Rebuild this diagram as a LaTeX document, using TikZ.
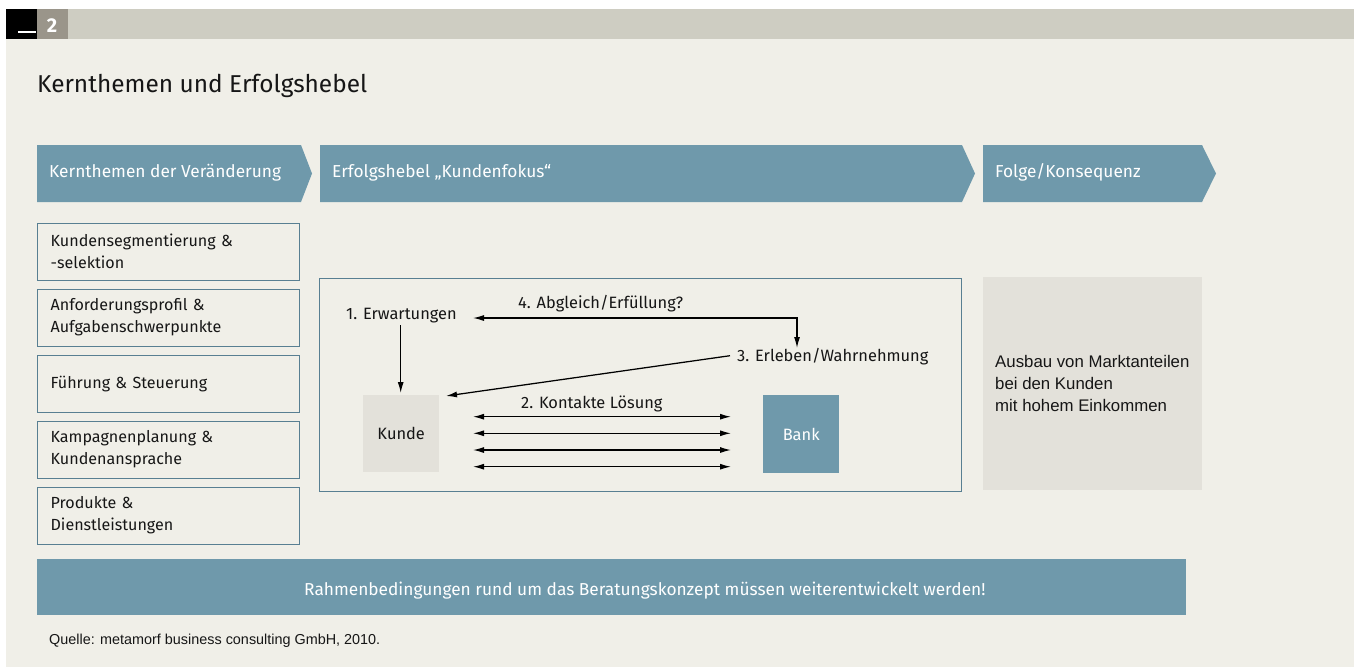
\documentclass[tikz,border=0pt]{standalone}
\usepackage{fontspec}
\setmainfont{Fira Sans}
\newfontfamily\arialf{Liberation Sans}
\usetikzlibrary{arrows.meta}
\definecolor{bg}{HTML}{F0EFE8}
\definecolor{band}{HTML}{CECDC2}
\definecolor{numgray}{HTML}{9A958A}
\definecolor{tealc}{HTML}{6F99AB}
\definecolor{edge}{HTML}{587F92}
\definecolor{lgray}{HTML}{E3E1DA}
\definecolor{txt}{HTML}{161616}
\begin{document}
\begin{tikzpicture}[x=1pt,y=-1pt,
  lbl/.style={inner sep=0pt, anchor=base west, text=txt, font=\fontsize{16.4}{20}\selectfont},
  hdr/.style={inner sep=0pt, anchor=base west, text=white, font=\fontsize{17.3}{20}\selectfont},
  lbox/.style={draw=edge, line width=1.2pt, fill=bg, anchor=north west, minimum width=262pt, minimum height=57pt, text width=236pt, inner xsep=13pt, inner ysep=0pt, align=left, text=txt, font=\fontsize{16.1}{22}\selectfont},
  arr/.style={-{Latex[length=11pt,width=6pt]}, line width=1.25pt},
  dbl/.style={{Latex[length=11pt,width=6pt]}-{Latex[length=11pt,width=6pt]}, line width=1.25pt},
  chev/.style={fill=tealc},
  fillbox/.style={anchor=north west, inner sep=0pt, text=txt, font=\fontsize{16.4}{20}\selectfont},
]
\useasboundingbox (0,0) rectangle (1354,667);
\fill[white] (0,0) rectangle (1354,667);
\fill[bg] (6,39) rectangle (1354,667);
\fill[band] (6,9) rectangle (1354,39);
\fill[black] (6,9) rectangle (37,39);
\fill[numgray] (37,9) rectangle (68,39);
\fill[white] (18,30.5) rectangle (36,33);
\node[font=\bfseries\fontsize{20}{20}\selectfont, text=white, inner sep=0pt, anchor=base] (num) at (52,32) {2};

\node[anchor=base west, inner sep=0pt, font=\fontsize{24.4}{25}\selectfont, text=txt] (title) at (37,92) {Kernthemen und Erfolgshebel};

\fill[chev] (37,145) -- (301,145) -- (312,173.5) -- (301,202) -- (37,202) -- cycle;
\fill[chev] (320,145) -- (962,145) -- (975,173.5) -- (962,202) -- (320,202) -- cycle;
\fill[chev] (983,145) -- (1202,145) -- (1216,173.5) -- (1202,202) -- (983,202) -- cycle;
\node[hdr] (h1) at (49,177) {Kernthemen der Veränderung};
\node[hdr] (h2) at (332,177) {Erfolgshebel „Kundenfokus“};
\node[hdr] (h3) at (995,177) {Folge/Konsequenz};

\node[lbox] (b1) at (37,222.5) {Kundensegmentierung \&\\{}-selektion};
\node[lbox] (b2) at (37,288.5) {Anforderungsprofil \&\\Aufgabenschwerpunkte};
\node[lbox] (b3) at (37,354.5) {Führung \& Steuerung};
\node[lbox] (b4) at (37,420.5) {Kampagnenplanung \&\\Kundenansprache};
\node[lbox] (b5) at (37,486.5) {Produkte \&\\Dienstleistungen};

\node[draw=edge, line width=0.9pt, anchor=north west, minimum width=642pt, minimum height=213pt, inner sep=0pt] (mid) at (319,278) {};

\node[fillbox, fill=lgray, minimum width=219pt, minimum height=213pt] (res) at (983,277) {};
\node[anchor=base west, inner sep=0pt, text=txt, font=\arialf\fontsize{16.8}{20}\selectfont] (r1) at (995,367) {Ausbau von Marktanteilen};
\node[anchor=base west, inner sep=0pt, text=txt, font=\arialf\fontsize{16.8}{20}\selectfont] (r2) at (995,389) {bei den Kunden};
\node[anchor=base west, inner sep=0pt, text=txt, font=\arialf\fontsize{16.8}{20}\selectfont] (r3) at (995,411) {mit hohem Einkommen};

\node[fillbox, fill=lgray, minimum width=76pt, minimum height=77pt] (kunde) at (363,395) {Kunde};
\node[fillbox, fill=tealc, text=white, minimum width=76pt, minimum height=78pt] (bank) at (763,395) {Bank};

\node[lbl] (e1) at (346,319) {1. Erwartungen};
\node[lbl] (e4) at (518,308.3) {4. Abgleich/Erfüllung?};
\node[lbl] (e3) at (737,361.7) {3. Erleben/Wahrnehmung};
\node[lbl] (e2) at (521,408) {2. Kontakte Lösung};

\coordinate (v1s) at (400.7,325);
\draw[arr, shorten >=2pt] (v1s) -- (v1s |- kunde.north);

\coordinate (a4l) at (473,318);
\coordinate (a4c) at (797,318);
\coordinate (a4r) at (797,348);
\draw[dbl] (a4l) -- (a4c) -- (a4r);

\coordinate (l3s) at (730,355.7);
\coordinate (l3e) at (446,396);
\draw[arr] (l3s) -- (l3e);

\foreach \yy/\n in {416.7/1,433.3/2,450/3,466.7/4} {
  \coordinate (cl\n) at (473,\yy);
  \coordinate (cr\n) at (731,\yy);
  \draw[dbl] (cl\n) -- (cr\n);
}

\node[fillbox, fill=tealc, minimum width=1149pt, minimum height=56pt] (bar) at (37,559) {};
\node[hdr] (bartext) at (304,595) {Rahmenbedingungen rund um das Beratungskonzept müssen weiterentwickelt werden!};

\node[anchor=base west, inner sep=0pt, text=txt, font=\arialf\fontsize{14.4}{16}\selectfont] (src) at (49,644) {Quelle: metamorf business consulting GmbH, 2010.};
\end{tikzpicture}
\end{document}
